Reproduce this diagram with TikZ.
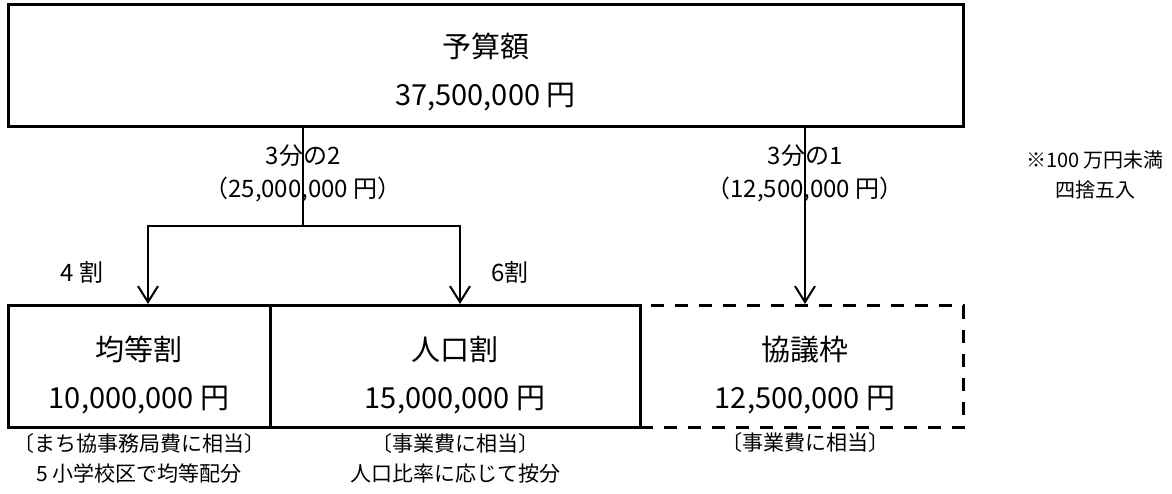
\documentclass[tikz,border=0pt]{standalone}
\usepackage{fontspec}
\setmainfont{Noto Sans CJK JP}
\usetikzlibrary{arrows.meta,positioning}
\begin{document}
\begin{tikzpicture}[x=1pt,y=-1pt,
    box/.style = {draw, line width=3pt, minimum height=122pt, inner sep=0pt},
    boxtext/.style = {align=center, inner sep=0pt, font=\fontsize{29}{48}\selectfont},
    note/.style = {align=center, inner sep=0pt, font=\fontsize{21}{30}\selectfont},
    tag/.style = {align=center, inner sep=0pt, font=\fontsize{24}{33}\selectfont},
    link/.style = {line width=2pt},
    arr/.style = {link, -{Straight Barb[length=16pt,width=20pt]}}]
    \useasboundingbox (0,0) rectangle (1172,493);
    \node[box, minimum width=955pt] (budget) at (485.5,65) {};
    \node[box, minimum width=262pt] (equal) at (139,366.5) {};
    \node[box, minimum width=323pt, dashed, dash pattern=on 13pt off 11pt] (council) at (801.5,366.5) {};
    \node[box, minimum width=370pt] (pop) at (455,366.5) {};
    \node[boxtext] (budgettext) at (485.5,72) {予算額\\37,500,000 円};
    \node[boxtext] (equaltext) at (139,375) {均等割\\10,000,000 円};
    \node[boxtext] (poptext) at (455,375) {人口割\\15,000,000 円};
    \node[boxtext] (counciltext) at (805,375) {協議枠\\12,500,000 円};
    \coordinate (fork) at (303,226);
    \coordinate (leftdrop) at (148,226);
    \coordinate (rightdrop) at (460,226);
    \coordinate (third) at (805,226);
    \draw[link] (budget.south -| fork) -- (fork);
    \draw[arr] (fork) -- (leftdrop) -- (leftdrop |- equal.north);
    \draw[arr] (fork) -- (rightdrop) -- (rightdrop |- pop.north);
    \draw[arr] (third |- budget.south) -- (third |- council.north);
    \node[tag] (twothirds) at (303,173.5) {3分の2\\（25,000,000 円）};
    \node[tag] (onethird) at (805,173.5) {3分の1\\（12,500,000 円）};
    \node[tag] (forty) at (82,272) {4 割};
    \node[tag] (sixty) at (510,272) {6割};
    \node[note, font=\fontsize{20}{30}\selectfont] (rounding) at (1095,175) {※100 万円未満\\四捨五入};
    \node[note] (equalnote) at (139,458) {〔まち協事務局費に相当〕\\5 小学校区で均等配分};
    \node[note] (popnote) at (455,458) {〔事業費に相当〕\\人口比率に応じて按分};
    \node[note] (councilnote) at (805,443) {〔事業費に相当〕};
    %\draw[link] (pop.north east) -- (pop.south east);
\end{tikzpicture}
\end{document}
